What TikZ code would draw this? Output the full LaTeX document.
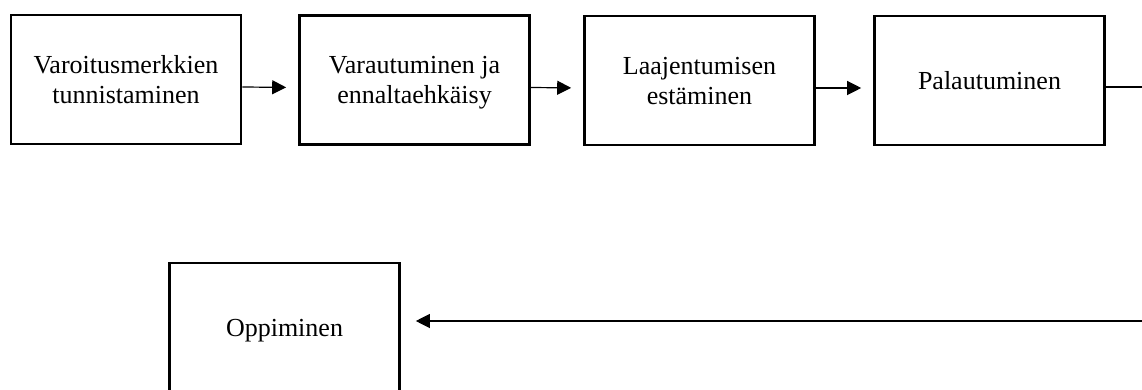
\documentclass[tikz,border=0pt]{standalone}
\usepackage{fontspec}
\setmainfont{Liberation Serif}
\usetikzlibrary{arrows.meta}
\newcommand\myline[1]{\rule[-1.5pt]{0pt}{12pt}\smash{#1}}
\begin{document}
\begin{tikzpicture}[x=0.5pt,y=-0.5pt,
  stepbox/.style={draw, line width=1.3pt, minimum width=115pt, minimum height=64.5pt,
    align=center, font=\fontsize{13}{15}\selectfont, inner sep=0pt},
  arr/.style={line width=0.6pt, -{Triangle[length=7pt,width=7pt]}, shorten >=6pt},
  plain/.style={line width=0.6pt}]
\useasboundingbox (0,0) rectangle (1142,390);
\clip (0,0) rectangle (1142,390);
\node[stepbox] (b1) at (126,79.5) {\myline{Varoitusmerkkien}\\\myline{tunnistaminen}};
\node[stepbox] (b2) at (414.5,80) {\myline{Varautuminen ja}\\\myline{ennaltaehkäisy}};
\node[stepbox] (b3) at (699.5,80.5) {\myline{Laajentumisen}\\\myline{estäminen}};
\node[stepbox] (b4) at (989.5,80.5) {\myline{Palautuminen}};
\node[stepbox] (opp) at (284.5,327.5) {\myline{Oppiminen}};
\coordinate (r1) at (1150,87);
\coordinate (r2) at (1150,321);
\draw[arr] ([yshift=-3.75pt]b1.east) -- ([yshift=-3.75pt]b2.west);
\draw[arr] ([yshift=-3.75pt]b2.east) -- ([yshift=-3.75pt]b3.west);
\draw[arr] ([yshift=-3.75pt]b3.east) -- ([yshift=-3.75pt]b4.west);
\draw[plain] ([yshift=-3.25pt]b4.east) -- (r1);
\draw[arr, shorten >=7.5pt] (r2) -- (r2 -| opp.east);
\end{tikzpicture}
\end{document}
